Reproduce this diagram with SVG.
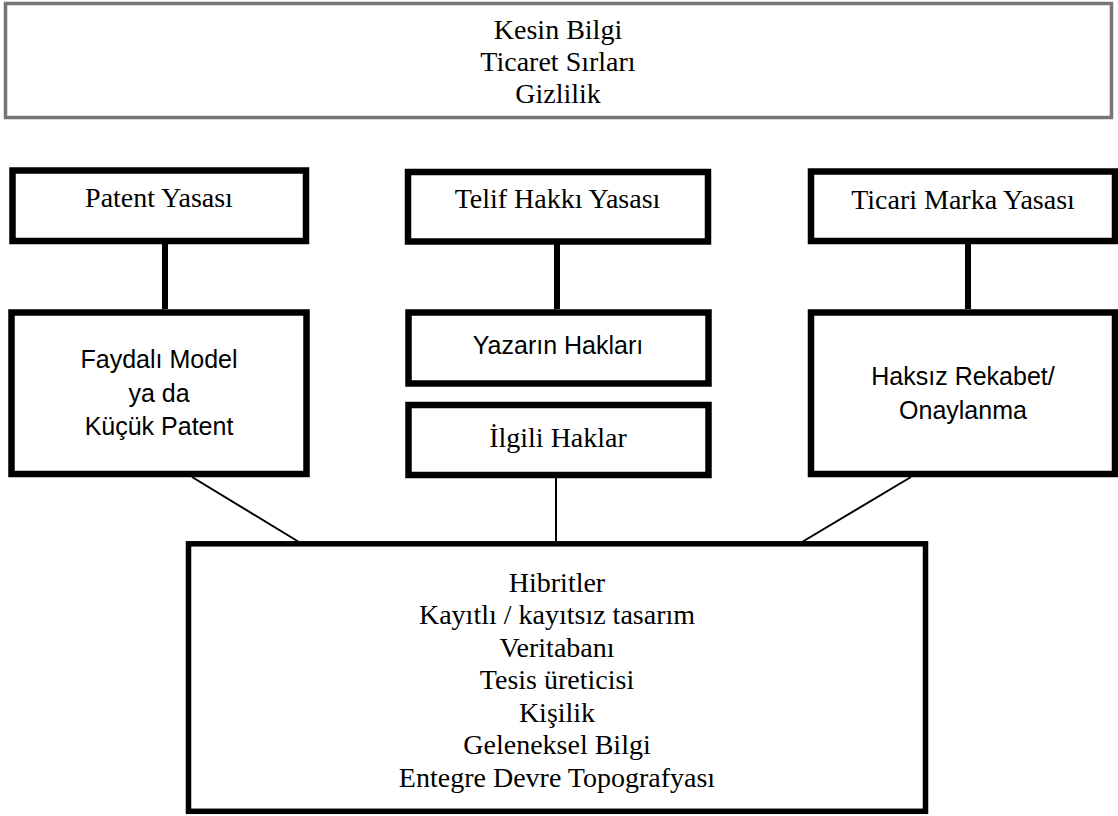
<svg xmlns="http://www.w3.org/2000/svg" width="1118" height="816" viewBox="0 0 1118 816">
<style>
.bg{fill:#ffffff}
.top{fill:#ffffff;stroke:#767676;stroke-width:3.5}
.box{fill:#ffffff;stroke:#000000;stroke-width:6.5}
.big{fill:#ffffff;stroke:#000000;stroke-width:5.5}
.thick{stroke:#000000;stroke-width:6;fill:none}
.thin{stroke:#000000;stroke-width:2;fill:none}
.serif{font-family:"Liberation Serif","Times New Roman",serif;font-size:28px;fill:#000000;text-anchor:middle}
.sans{font-family:"Liberation Sans",Arial,sans-serif;font-size:25px;fill:#000000;text-anchor:middle}
</style>
<rect class="bg" x="0" y="0" width="1118" height="816"/>
<g id="connectors">
<line class="thick" x1="165" y1="244" x2="165" y2="309"/>
<line class="thick" x1="557" y1="244" x2="557" y2="309"/>
<line class="thick" x1="968" y1="244" x2="968" y2="309"/>
<line class="thin" x1="192" y1="477" x2="299" y2="542"/>
<line class="thin" x1="556" y1="478" x2="556" y2="542"/>
<line class="thin" x1="911" y1="477" x2="802" y2="542"/>
</g>
<g id="kesin-bilgi">
<rect class="top" x="5.5" y="3.5" width="1106" height="114"/>
<text class="serif" x="558" y="39">Kesin Bilgi</text>
<text class="serif" x="558" y="71">Ticaret Sırları</text>
<text class="serif" x="558" y="103">Gizlilik</text>
</g>
<g id="patent-yasasi">
<rect class="box" x="12.5" y="170.5" width="293.5" height="70.5"/>
<text class="serif" x="159" y="207">Patent Yasası</text>
</g>
<g id="telif-hakki-yasasi">
<rect class="box" x="408" y="172" width="300" height="69.5"/>
<text class="serif" x="557.5" y="208">Telif Hakkı Yasası</text>
</g>
<g id="ticari-marka-yasasi">
<rect class="box" x="811" y="171.5" width="304" height="69.5"/>
<text class="serif" x="963" y="209">Ticari Marka Yasası</text>
</g>
<g id="faydali-model">
<rect class="box" x="11.5" y="312.5" width="295" height="161.5"/>
<text class="sans" x="159" y="368">Faydalı Model</text>
<text class="sans" x="159" y="401.5">ya da</text>
<text class="sans" x="159" y="435">Küçük Patent</text>
</g>
<g id="yazarin-haklari">
<rect class="box" x="408.5" y="312.5" width="300" height="71"/>
<text class="sans" x="558" y="354">Yazarın Hakları</text>
</g>
<g id="ilgili-haklar">
<rect class="box" x="408.5" y="405" width="300" height="70"/>
<text class="serif" x="558" y="447">İlgili Haklar</text>
</g>
<g id="haksiz-rekabet">
<rect class="box" x="811" y="312.5" width="304" height="161.5"/>
<text class="sans" x="963" y="385">Haksız Rekabet/</text>
<text class="sans" x="963" y="418.5">Onaylanma</text>
</g>
<g id="hibritler">
<rect class="big" x="188.5" y="543.8" width="737" height="267.5"/>
<text class="serif" x="557" y="591.5">Hibritler</text>
<text class="serif" x="557" y="624">Kayıtlı / kayıtsız tasarım</text>
<text class="serif" x="557" y="656.5">Veritabanı</text>
<text class="serif" x="557" y="689">Tesis üreticisi</text>
<text class="serif" x="557" y="721.5">Kişilik</text>
<text class="serif" x="557" y="754">Geleneksel Bilgi</text>
<text class="serif" x="557" y="786.5">Entegre Devre Topografyası</text>
</g>
</svg>
